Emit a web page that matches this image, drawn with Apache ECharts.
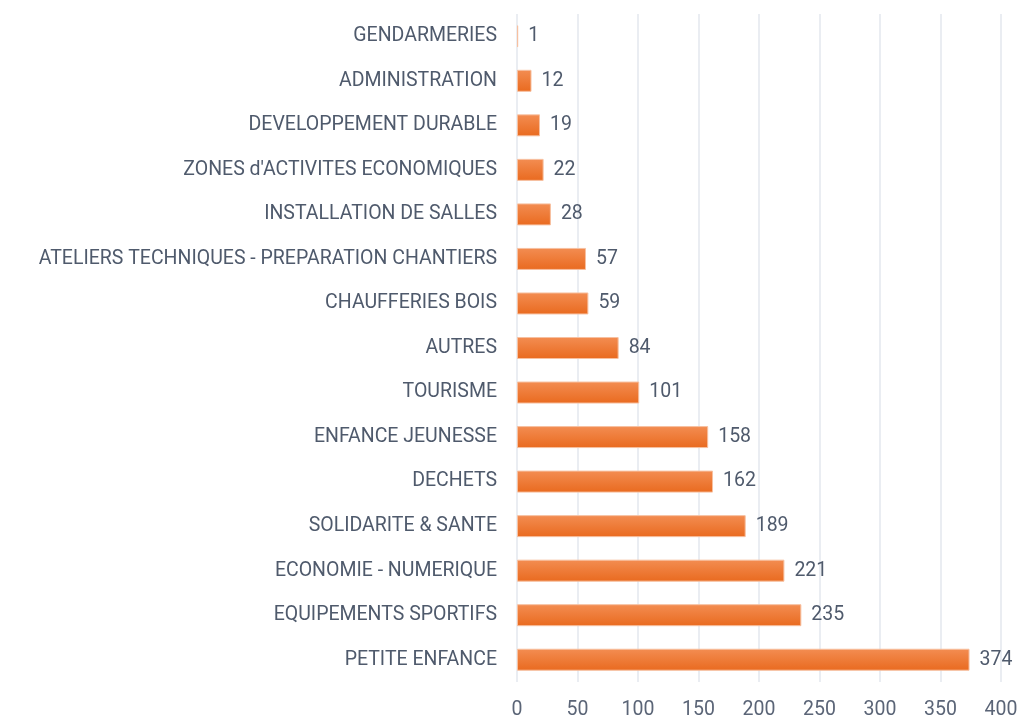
<!DOCTYPE html>
<html>
<head>
<meta charset="utf-8">
<script src="https://cdn.jsdelivr.net/npm/echarts@6/dist/echarts.min.js"></script>
<style>
  html, body { margin: 0; padding: 0; background: #fff; }
  #main { width: 1021px; height: 720px; }
</style>
</head>
<body>
<div id="main"></div>
<script>
  // catégories, de haut en bas
  var categories = [
    'GENDARMERIES',
    'ADMINISTRATION',
    'DEVELOPPEMENT DURABLE',
    "ZONES d'ACTIVITES ECONOMIQUES",
    'INSTALLATION DE SALLES',
    'ATELIERS TECHNIQUES - PREPARATION CHANTIERS',
    'CHAUFFERIES BOIS',
    'AUTRES',
    'TOURISME',
    'ENFANCE JEUNESSE',
    'DECHETS',
    'SOLIDARITE & SANTE',
    'ECONOMIE - NUMERIQUE',
    'EQUIPEMENTS SPORTIFS',
    'PETITE ENFANCE'
  ];
  var values = [1, 12, 19, 22, 28, 57, 59, 84, 101, 158, 162, 189, 221, 235, 374];
  var xTicks = [0, 50, 100, 150, 200, 250, 300, 350, 400];

  var myChart = echarts.init(document.getElementById('main'));
  var option = {
    animation: false,
    grid: { left: 517, right: 20, top: 14, bottom: 35 },
    xAxis: {
      type: 'value',
      min: xTicks[0],
      max: xTicks[xTicks.length - 1],
      interval: 50,
      axisLine: { show: false },
      axisTick: { show: false },
      splitLine: { lineStyle: { color: '#e3e7ee', width: 1.5 } },
      axisLabel: { color: '#5b6577', fontFamily: 'Roboto', fontSize: 19.5, margin: 18 }
    },
    yAxis: {
      type: 'category',
      inverse: true,
      data: categories,
      axisLine: { show: false },
      axisTick: { show: false },
      axisLabel: { color: '#4f5a6c', fontFamily: 'Roboto', fontSize: 19.5, margin: 20 }
    },
    series: [{
      type: 'bar',
      data: values,
      barWidth: 22,
      itemStyle: {
        color: new echarts.graphic.LinearGradient(0, 0, 0, 1, [
          { offset: 0, color: '#f38d52' },
          { offset: 1, color: '#e96a1f' }
        ]),
        borderColor: '#f7c0a0',
        borderWidth: 1
      },
      label: {
        show: true,
        position: 'right',
        distance: 10,
        color: '#4f5a6c',
        fontFamily: 'Roboto',
        fontSize: 19.5
      }
    }]
  };
  myChart.setOption(option);
</script>
</body>
</html>
